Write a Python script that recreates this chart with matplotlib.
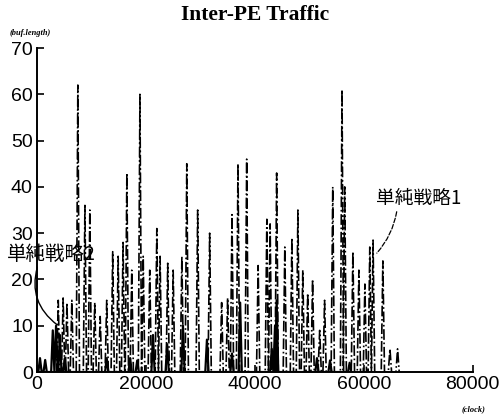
import matplotlib.pyplot as plt
import numpy as np

# 単純戦略1 (dash-dot) spike positions [clock] and heights [buf.length]
s1_x = [3900, 4800, 5500, 6400, 7500, 8800, 9700, 10600, 11600, 12800,
        13900, 14900, 15800, 16500, 17400, 18900, 19500, 20700, 22000, 22600,
        24000, 25000, 26600, 27500, 29500, 31700, 33900, 35000, 35800, 36900,
        38500, 40600, 42200, 42800, 44000, 45500, 46800, 47900, 48800, 49700,
        50600, 51900, 52800, 54300, 56000, 56500, 58000, 59100, 60200, 61100,
        61700, 63500, 64800, 66200]
s1_y = [15.5, 16, 15, 15.5, 62, 36, 35, 15, 12, 15.5,
        26, 25, 28, 43, 22, 60, 25, 22, 31, 25,
        23.5, 22, 25, 45, 35, 30, 15, 16, 34, 45,
        46, 23, 33, 32, 43, 27, 29, 35, 22, 17,
        20, 9, 15.5, 40, 61, 40, 26, 22, 19, 27,
        28.5, 24, 5, 5]

# 単純戦略2 (solid)
s2_x = [550, 1500, 2900, 3500, 4200, 5100, 12800, 17100, 18400, 21300,
        23900, 26800, 31200, 35800, 37300, 43100, 43700, 44000, 51400, 53800, 57400]
s2_y = [3, 2.6, 9, 10, 8, 3, 3, 3, 2.5, 8,
        6, 10, 7, 4, 15, 5, 10, 15.5, 3, 2.5, 2]

xticks = [0, 20000, 40000, 60000, 80000]
yticks = [0, 10, 20, 30, 40, 50, 60, 70]


def spikes(xs, ys, w):
    px, py = [0], [0]
    for x, y in zip(xs, ys):
        px += [x - w, x, x + w]
        py += [0, y, 0]
    return px, py


fig = plt.figure(figsize=(5.02, 4.18), dpi=100)
ax = fig.add_axes([0.0737, 0.110, 0.868, 0.775])

x1, y1 = spikes(s1_x, s1_y, 300)
ax.plot(x1, y1, color='black', linestyle='-.', linewidth=1.2)
x2, y2 = spikes(s2_x, s2_y, 300)
ax.plot(x2, y2, color='black', linestyle='-', linewidth=1.6)

ax.set_xlim(0, 80000)
ax.set_ylim(0, 70)
ax.set_xticks(xticks)
ax.set_yticks(yticks)
ax.spines['top'].set_visible(False)
ax.spines['right'].set_visible(False)
for s in ['left', 'bottom']:
    ax.spines[s].set_linewidth(1.4)
ax.tick_params(direction='in', length=5, width=1.2, labelsize=14, pad=3)
for lab in ax.get_xticklabels() + ax.get_yticklabels():
    lab.set_family('Liberation Sans')

ax.set_title('Inter-PE Traffic', fontfamily='Liberation Serif', fontweight='bold',
             fontsize=15.5, pad=20)

ax.text(-0.062, 1.04, '(buf.length)', transform=ax.transAxes, fontsize=6,
        style='italic', fontweight='bold', fontfamily='Liberation Serif')
ax.text(0.975, -0.12, '(clock)', transform=ax.transAxes, fontsize=6,
        style='italic', fontweight='bold', fontfamily='Liberation Serif')

jp = ['Noto Sans CJK JP', 'DejaVu Sans']
ax.annotate('単純戦略1', xy=(62400, 25.7), xytext=(62200, 37.5),
            fontsize=13.5, family=jp, va='center', annotation_clip=False,
            arrowprops=dict(arrowstyle='-', linestyle='--', color='black', lw=0.9,
                            shrinkA=0, shrinkB=0, relpos=(0.25, 0),
                            connectionstyle='arc3,rad=-0.15'))
ax.annotate('単純戦略2', xy=(3700, 10.2), xytext=(-5500, 25.5),
            fontsize=14, family=jp, va='center', annotation_clip=False,
            arrowprops=dict(arrowstyle='-', color='black', lw=1.0,
                            shrinkA=0, shrinkB=0, relpos=(0.35, 0),
                            connectionstyle='arc3,rad=0.35'))

fig.savefig('out.png', dpi=100)
